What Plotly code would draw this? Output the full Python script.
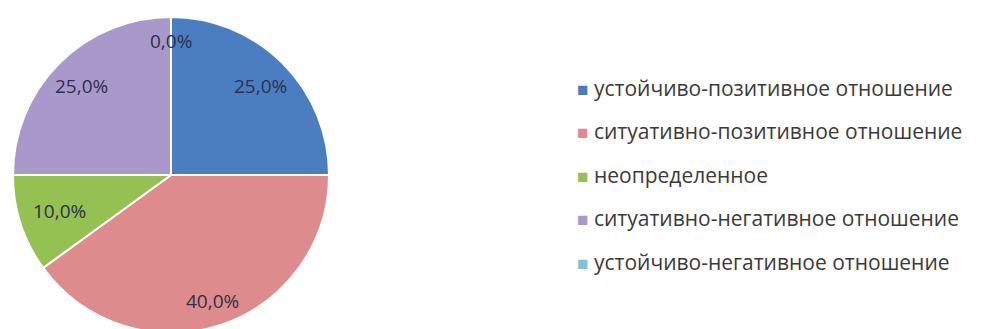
import math
import plotly.graph_objects as go

categories = [
    "устойчиво-позитивное отношение",
    "ситуативно-позитивное отношение",
    "неопределенное",
    "ситуативно-негативное отношение",
    "устойчиво-негативное отношение",
]
values = [25.0, 40.0, 10.0, 25.0, 0.0]
colors = ["#4B7EC1", "#DE8B8D", "#94C152", "#A999CB", "#7EC3DA"]

W, H = 981, 329
# pie placement in figure pixels (page has an 8px body margin)
cx, cy, R = 163, 167, 158
label_r = [0.80, 0.84, 0.74, 0.80, 0.85]

fig = go.Figure(go.Pie(
    labels=categories,
    values=values,
    sort=False,
    direction="clockwise",
    rotation=0,
    marker=dict(colors=colors, line=dict(color="white", width=2)),
    textinfo="none",
    hoverinfo="label+percent",
    showlegend=False,
    domain=dict(x=[(cx - R) / W, (cx + R) / W],
                y=[1 - (cy + R) / H, 1 - (cy - R) / H]),
))

# percentage labels, placed at slice mid-angles
total = sum(values)
start = 0.0
for v, rf in zip(values, label_r):
    mid = (start + v / 2) / total * 2 * math.pi
    start += v
    x = cx + rf * R * math.sin(mid)
    y = cy - rf * R * math.cos(mid)
    fig.add_annotation(
        x=x / W, y=1 - y / H, xref="paper", yref="paper",
        xanchor="center", yanchor="middle",
        text=f"{v / total * 100:.1f}%".replace(".", ","),
        showarrow=False,
        font=dict(family="Open Sans", size=19, color="#2f2f4a"),
    )

# legend drawn as annotations so row spacing matches
for i, (name, c) in enumerate(zip(categories, colors)):
    y = 80 + i * 43.4
    fig.add_annotation(
        x=567 / W, y=1 - y / H, xref="paper", yref="paper",
        xanchor="left", yanchor="middle",
        text=f"<span style='color:{c};font-size:19px'>■</span> {name}",
        showarrow=False,
        font=dict(family="Open Sans", size=21, color="#3a3a3a"),
    )

fig.update_layout(
    width=W, height=H,
    margin=dict(l=0, r=0, t=0, b=0),
    paper_bgcolor="white",
    plot_bgcolor="white",
)

fig.write_html("out.html")
